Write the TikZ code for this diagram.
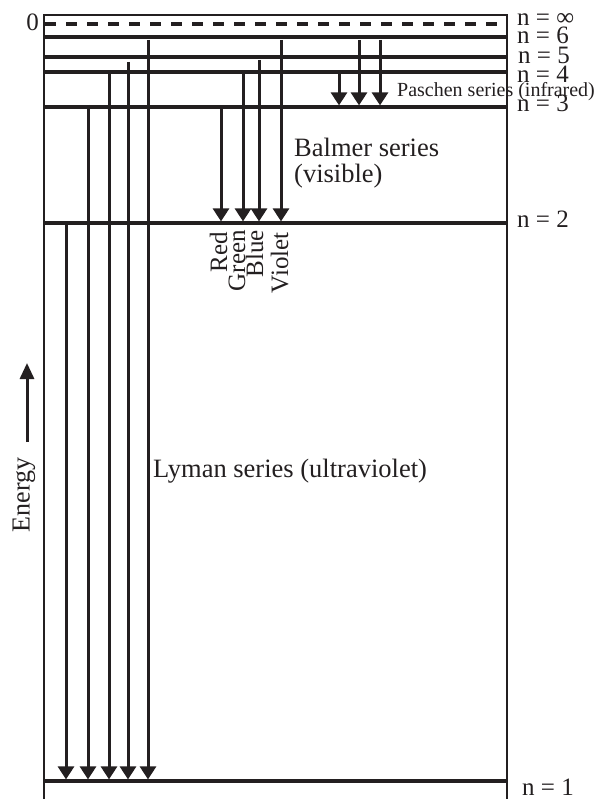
\documentclass[tikz,border=0pt]{standalone}
\usepackage{fontspec}
\setmainfont{Liberation Serif}
\usetikzlibrary{arrows.meta}
\definecolor{ink}{HTML}{231F20}
\tikzset{
  frameline/.style={draw=ink, line width=1.8pt},
  levelline/.style={draw=ink, line width=3.2pt},
  infline/.style={draw=ink, line width=3.2pt, dash pattern=on 11pt off 10pt},
  trans/.style={draw=ink, line width=3pt, -{Triangle[width=16pt,length=13pt]}},
  nlabel/.style={anchor=base west, inner sep=0pt, text=ink, font=\fontsize{25}{25}\selectfont},
  biglabel/.style={anchor=base west, inner sep=0pt, text=ink, font=\fontsize{26.5}{28}\selectfont},
  colorlabel/.style={rotate=90, anchor=base east, inner sep=0pt, text=ink, font=\fontsize{25}{25}\selectfont},
}
\begin{document}
\begin{tikzpicture}[x=1pt,y=-1pt]
\useasboundingbox (0,0) rectangle (598,799);
% frame
\coordinate (TL) at (44,15);
\coordinate (TR) at (507,15);
\coordinate (BL) at (44,799);
\coordinate (BR) at (507,799);
\draw[frameline] (BL) -- (TL) -- (TR) -- (BR);
% levels
\coordinate (linfw) at (45,24); \coordinate (linfe) at (506,24);
\draw[infline] (linfw) -- (linfe);
\foreach \n/\y in {6/37,5/57,4/72,3/107,2/223,1/781}{
  \coordinate (l\n w) at (45,\y);
  \coordinate (l\n e) at (506,\y);
  \draw[levelline] (l\n w) -- (l\n e);
}
% Lyman series
\foreach \k/\x/\y in {a/66/223,b/88/105,c/109/73,d/128/62,e/148/40}{
  \coordinate (ly\k s) at (\x,\y);
  \coordinate (ly\k e) at (\x,779.4);
  \draw[trans] (ly\k s) -- (ly\k e);
}
% Balmer series
\foreach \k/\x/\y in {a/221/107,b/243/72,c/259/60,d/281/40}{
  \coordinate (ba\k s) at (\x,\y);
  \coordinate (ba\k e) at (\x,221.4);
  \draw[trans] (ba\k s) -- (ba\k e);
}
% Paschen series
\foreach \k/\x/\y in {a/339/72,b/359/40,c/380/40}{
  \coordinate (pa\k s) at (\x,\y);
  \coordinate (pa\k e) at (\x,105.4);
  \draw[trans] (pa\k s) -- (pa\k e);
}
% energy arrow
\coordinate (en1) at (27,442);
\coordinate (en2) at (27,363);
\draw[draw=ink, line width=3pt, -{Triangle[width=14pt,length=16pt]}] (en1) -- (en2);
\node[rotate=90, anchor=center, inner sep=0pt, text=ink, font=\fontsize{26}{26}\selectfont] (energy) at (24,495) {Energy};
% level labels
\node[anchor=base east, inner sep=0pt, text=ink, font=\fontsize{25}{25}\selectfont] (zero) at (39,31) {0};
\node[nlabel] (ninf) at (517,26) {n = ∞};
\node[nlabel] (n6) at (517,44) {n = 6};
\node[nlabel] (n5) at (518,64) {n = 5};
\node[nlabel] (n4) at (517,83) {n = 4};
\node[nlabel] (n3) at (517,112) {n = 3};
\node[nlabel] (n2) at (517,228) {n = 2};
\node[nlabel] (n1) at (522,795) {n = 1};
% series labels
\node[anchor=base west, inner sep=0pt, text=ink, font=\fontsize{20}{20}\selectfont] (paschen) at (397,97) {Paschen series (infrared)};
\node[biglabel] (balmer) at (294,157) {Balmer series};
\node[biglabel] (visible) at (294,183) {(visible)};
\node[biglabel] (lyman) at (153,477) {Lyman series (ultraviolet)};
% colour labels
\node[colorlabel] (red) at (227,232) {Red};
\node[colorlabel] (green) at (245,230) {Green};
\node[colorlabel] (blue) at (263,230) {Blue};
\node[colorlabel] (violet) at (288,232) {Violet};
\end{tikzpicture}
\end{document}
